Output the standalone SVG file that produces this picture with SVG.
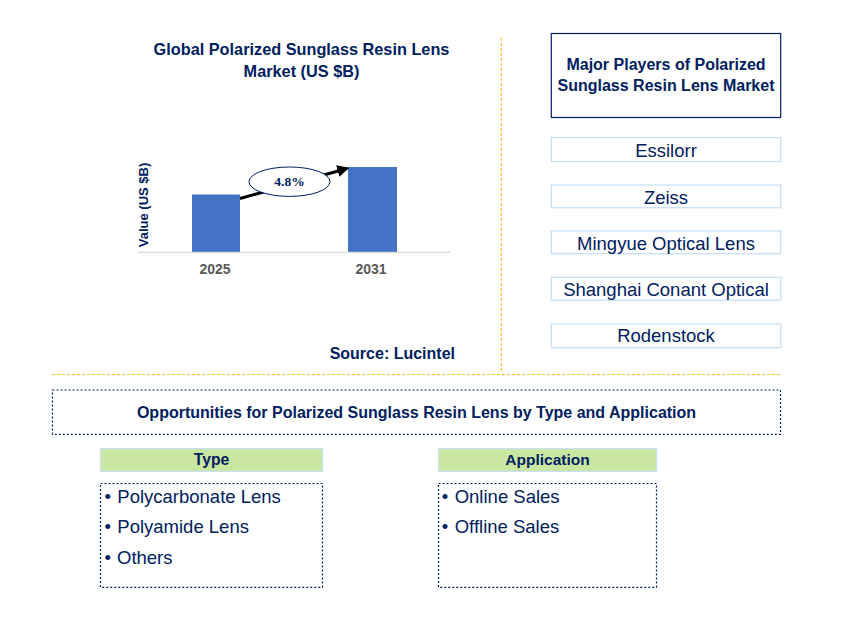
<svg xmlns="http://www.w3.org/2000/svg" width="845" height="628" viewBox="0 0 845 628">
<style>
.t{font-family:"Liberation Sans",Arial,sans-serif;fill:#002060}
.b{font-weight:bold}
.pl{fill:#fff;stroke:#c9e0f4;stroke-width:1.3}
.pt{font-size:18.5px;text-anchor:middle}
.dot{fill:none;stroke:#002060;stroke-width:1.2;stroke-dasharray:2,2}
.gh{fill:#c9e7a2;stroke:#c9e0f4;stroke-width:1.3}
.li{font-size:18.5px}
.gold{stroke:#fbbf24;stroke-width:1.2;stroke-dasharray:3,2;fill:none}
</style>
<defs>
<marker id="ah" viewBox="0 0 10 10" refX="8" refY="5" markerWidth="4" markerHeight="4" orient="auto" markerUnits="strokeWidth">
<path d="M0,0 L10,5 L0,10 z" fill="#000"/>
</marker>
</defs>
<rect width="845" height="628" fill="#fff"/>

<g id="chart">
<text class="t b" x="301.5" y="55" font-size="16.3" text-anchor="middle">Global Polarized Sunglass Resin Lens</text>
<text class="t b" x="301.5" y="77" font-size="16.3" text-anchor="middle">Market (US $B)</text>
<rect x="192" y="194.5" width="48" height="57.5" fill="#4472c4"/>
<rect x="348" y="167" width="49" height="85" fill="#4472c4"/>
<line x1="138" y1="252.3" x2="451" y2="252.3" stroke="#d9d9d9" stroke-width="1.2"/>
<text class="t b" x="148" y="205" font-size="13" text-anchor="middle" transform="rotate(-90 148 205)">Value (US $B)</text>
<text x="215" y="274" font-family="Liberation Sans,Arial,sans-serif" font-weight="bold" font-size="14" fill="#595959" text-anchor="middle">2025</text>
<text x="371" y="274" font-family="Liberation Sans,Arial,sans-serif" font-weight="bold" font-size="14" fill="#595959" text-anchor="middle">2031</text>
<text class="t b" x="455" y="359" font-size="16" text-anchor="end">Source: Lucintel</text>
</g>

<g id="connectors">
<line x1="240" y1="198.5" x2="347" y2="168.5" stroke="#000" stroke-width="3" marker-end="url(#ah)"/>
<line class="gold" x1="501.3" y1="38" x2="501.3" y2="372"/>
<line class="gold" x1="52" y1="374.5" x2="780" y2="374.5"/>
</g>

<g id="cagr">
<ellipse cx="289.5" cy="181.7" rx="40.5" ry="14.7" fill="#fff" stroke="#002060" stroke-width="1"/>
<text x="289.5" y="186.3" font-family="Liberation Serif,'Times New Roman',serif" font-weight="bold" font-size="13.5" fill="#002060" text-anchor="middle">4.8%</text>
</g>

<g id="players-header">
<rect x="551.3" y="33.5" width="229.4" height="84" fill="#fff" stroke="#002060" stroke-width="1.2"/>
<text class="t b" x="666" y="70" font-size="16" text-anchor="middle">Major Players of Polarized</text>
<text class="t b" x="666" y="91" font-size="16" text-anchor="middle">Sunglass Resin Lens Market</text>
</g>
<g id="p-essilorr"><rect class="pl" x="551.3" y="137.5" width="229.4" height="24"/><text class="t pt" x="666" y="156.7">Essilorr</text></g>
<g id="p-zeiss"><rect class="pl" x="551.3" y="185" width="229.4" height="22.7"/><text class="t pt" x="666" y="204">Zeiss</text></g>
<g id="p-mingyue"><rect class="pl" x="551.3" y="231" width="229.4" height="22.7"/><text class="t pt" x="666" y="249.5">Mingyue Optical Lens</text></g>
<g id="p-shanghai"><rect class="pl" x="551.3" y="277.3" width="229.4" height="23"/><text class="t pt" x="666" y="295.8">Shanghai Conant Optical</text></g>
<g id="p-rodenstock"><rect class="pl" x="551.3" y="324" width="229.4" height="23.7"/><text class="t pt" x="666" y="342.4">Rodenstock</text></g>

<g id="opportunities">
<rect class="dot" x="52.5" y="390" width="728" height="44.3"/>
<text class="t b" x="416.5" y="418" font-size="16" text-anchor="middle">Opportunities for Polarized Sunglass Resin Lens by Type and Application</text>
</g>

<g id="type-header">
<rect class="gh" x="100.5" y="448.5" width="222" height="23"/>
<text class="t b" x="211.5" y="464.5" font-size="15.7" text-anchor="middle">Type</text>
</g>
<g id="type-list">
<rect class="dot" x="100.5" y="483.5" width="222" height="103.8"/>
<text class="t li" y="502.5"><tspan x="104.5">•</tspan><tspan x="117.3">Polycarbonate Lens</tspan></text>
<text class="t li" y="532.5"><tspan x="104.5">•</tspan><tspan x="117.3">Polyamide Lens</tspan></text>
<text class="t li" y="563.5"><tspan x="104.5">•</tspan><tspan x="117">Others</tspan></text>
</g>

<g id="app-header">
<rect class="gh" x="438.5" y="448.5" width="218" height="23"/>
<text class="t b" x="547.5" y="464.5" font-size="15.5" text-anchor="middle">Application</text>
</g>
<g id="app-list">
<rect class="dot" x="438.5" y="483.5" width="218" height="103.8"/>
<text class="t li" y="502.5"><tspan x="441.8">•</tspan><tspan x="454.7">Online Sales</tspan></text>
<text class="t li" y="532.5"><tspan x="441.8">•</tspan><tspan x="454.7">Offline Sales</tspan></text>
</g>
</svg>
